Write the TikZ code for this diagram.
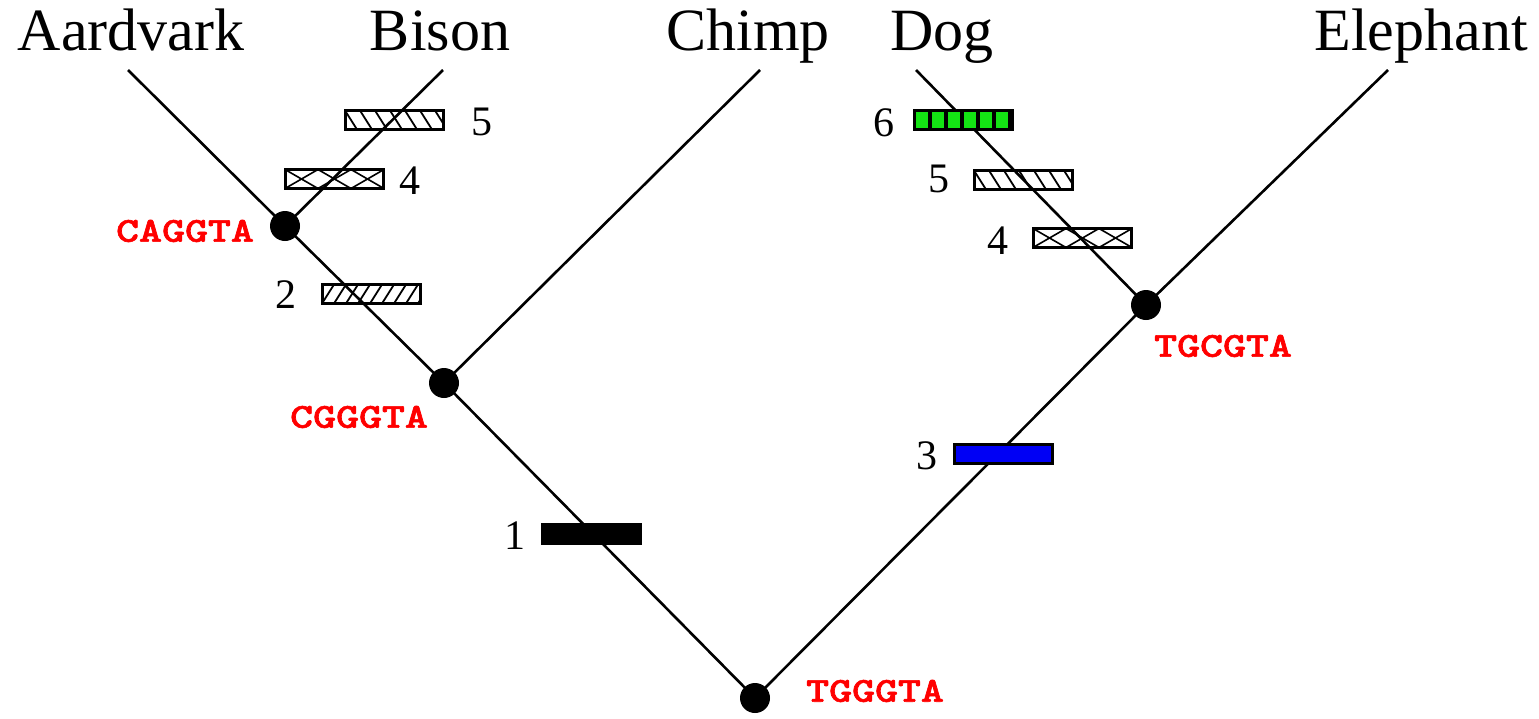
\documentclass[tikz,border=0pt]{standalone}
\usepackage{fontspec}
\usepackage{graphicx}
\setmainfont{Liberation Serif}
\newfontfamily\seqfont{lmmonolt10-bold.otf}[FakeBold=1.6]
\definecolor{mutgreen}{RGB}{20,228,20}
\definecolor{mutblue}{RGB}{0,0,245}
\definecolor{seqred}{RGB}{255,0,0}
\begin{document}
\begin{tikzpicture}[x=1pt,y=-1pt,
  branch/.style={line width=2.6pt,black},
  dot/.style={circle,fill=black,minimum size=30pt,inner sep=0pt},
  mut/.style={draw,line width=3pt,minimum width=98pt,minimum height=19pt,inner sep=0pt},
  species/.style={font=\fontsize{60}{60}\selectfont,anchor=base,inner sep=0pt},
  num/.style={font=\fontsize{42}{42}\selectfont,inner sep=0pt},
  seq/.style={text=seqred,font=\seqfont\fontsize{35}{35}\selectfont,inner sep=0pt},
  hatchback/.style={path picture={\foreach \i in {-1,...,7}
      \draw[line width=1.8pt] ([xshift=\i*15pt]path picture bounding box.north west) -- ++(12pt,-19pt);}},
  hatchfwd/.style={path picture={\foreach \i in {-1,...,8}
      \draw[line width=1.8pt] ([xshift=\i*12pt]path picture bounding box.south west) -- ++(12pt,19pt);}},
  crosshatch/.style={path picture={\foreach \i in {-1,...,3}{
      \draw[line width=1.6pt] ([xshift=\i*33pt]path picture bounding box.north west) -- ++(33pt,-19pt);
      \draw[line width=1.6pt] ([xshift=\i*33pt]path picture bounding box.south west) -- ++(33pt,19pt);}}},
  vbars/.style={fill=mutgreen,path picture={\foreach \i in {1,...,6}
      \draw[line width=4pt] ([xshift=\i*16pt]path picture bounding box.north west) -- ([xshift=\i*16pt]path picture bounding box.south west);}}
]
\useasboundingbox (0,0) rectangle (1539,718);

% leaf names
\node[species] (nA) at (131,50) {Aardvark};
\node[species] (nB) at (440,50) {Bison};
\node[species] (nC) at (748,50) {Chimp};
\node[species] (nD) at (942,50) {Dog};
\node[species] (nE) at (1421,50) {Elephant};

% leaf ends
\coordinate (A) at (128,70);
\coordinate (B) at (443,70);
\coordinate (C) at (760,70);
\coordinate (D) at (916,70);
\coordinate (E) at (1388,70);

% internal nodes
\coordinate (root) at (755,698);
\coordinate (cg) at (444,383);
\coordinate (ca) at (285,226);
\coordinate (tc) at (1146,305);

% branches
\draw[branch] (root) -- (cg);
\draw[branch] (cg) -- (ca);
\draw[branch] (ca) -- (A);
\draw[branch] (ca) -- (B);
\draw[branch] (cg) -- (C);
\draw[branch] (root) -- (tc);
\draw[branch] (tc) -- (E);
\draw[branch] (tc) -- (D);

% mutation boxes
\node[mut,fill=black] (m1) at (591,534) {};
\node[mut,hatchfwd] (m2) at (371,294) {};
\node[mut,fill=mutblue] (m3) at (1003,454) {};
\node[mut,crosshatch] (m4l) at (334,179) {};
\node[mut,hatchback] (m5l) at (394,120) {};
\node[mut,vbars] (m6) at (963,120) {};
\node[mut,hatchback] (m5r) at (1023,180) {};
\node[mut,crosshatch] (m4r) at (1082,238) {};

% mutation numbers
\node[num] (l1) at (515,536) {1};
\node[num] (l2) at (286,295) {2};
\node[num] (l3) at (927,456) {3};
\node[num] (l4l) at (410,181) {4};
\node[num] (l5l) at (482,122) {5};
\node[num] (l6) at (884,123) {6};
\node[num] (l5r) at (939,179) {5};
\node[num] (l4r) at (998,241) {4};

% ancestral nodes
\node[dot] (droot) at (root) {};
\node[dot] (dcg) at (cg) {};
\node[dot] (dca) at (ca) {};
\node[dot] (dtc) at (tc) {};

% sequences
\node[seq] (sca) at (185,231) {\scalebox{1.25}[1]{CAGGTA}};
\node[seq] (scg) at (359,417) {\scalebox{1.25}[1]{CGGGTA}};
\node[seq] (stc) at (1223,346) {\scalebox{1.25}[1]{TGCGTA}};
\node[seq] (sroot) at (875,691) {\scalebox{1.25}[1]{TGGGTA}};
\end{tikzpicture}
\end{document}
